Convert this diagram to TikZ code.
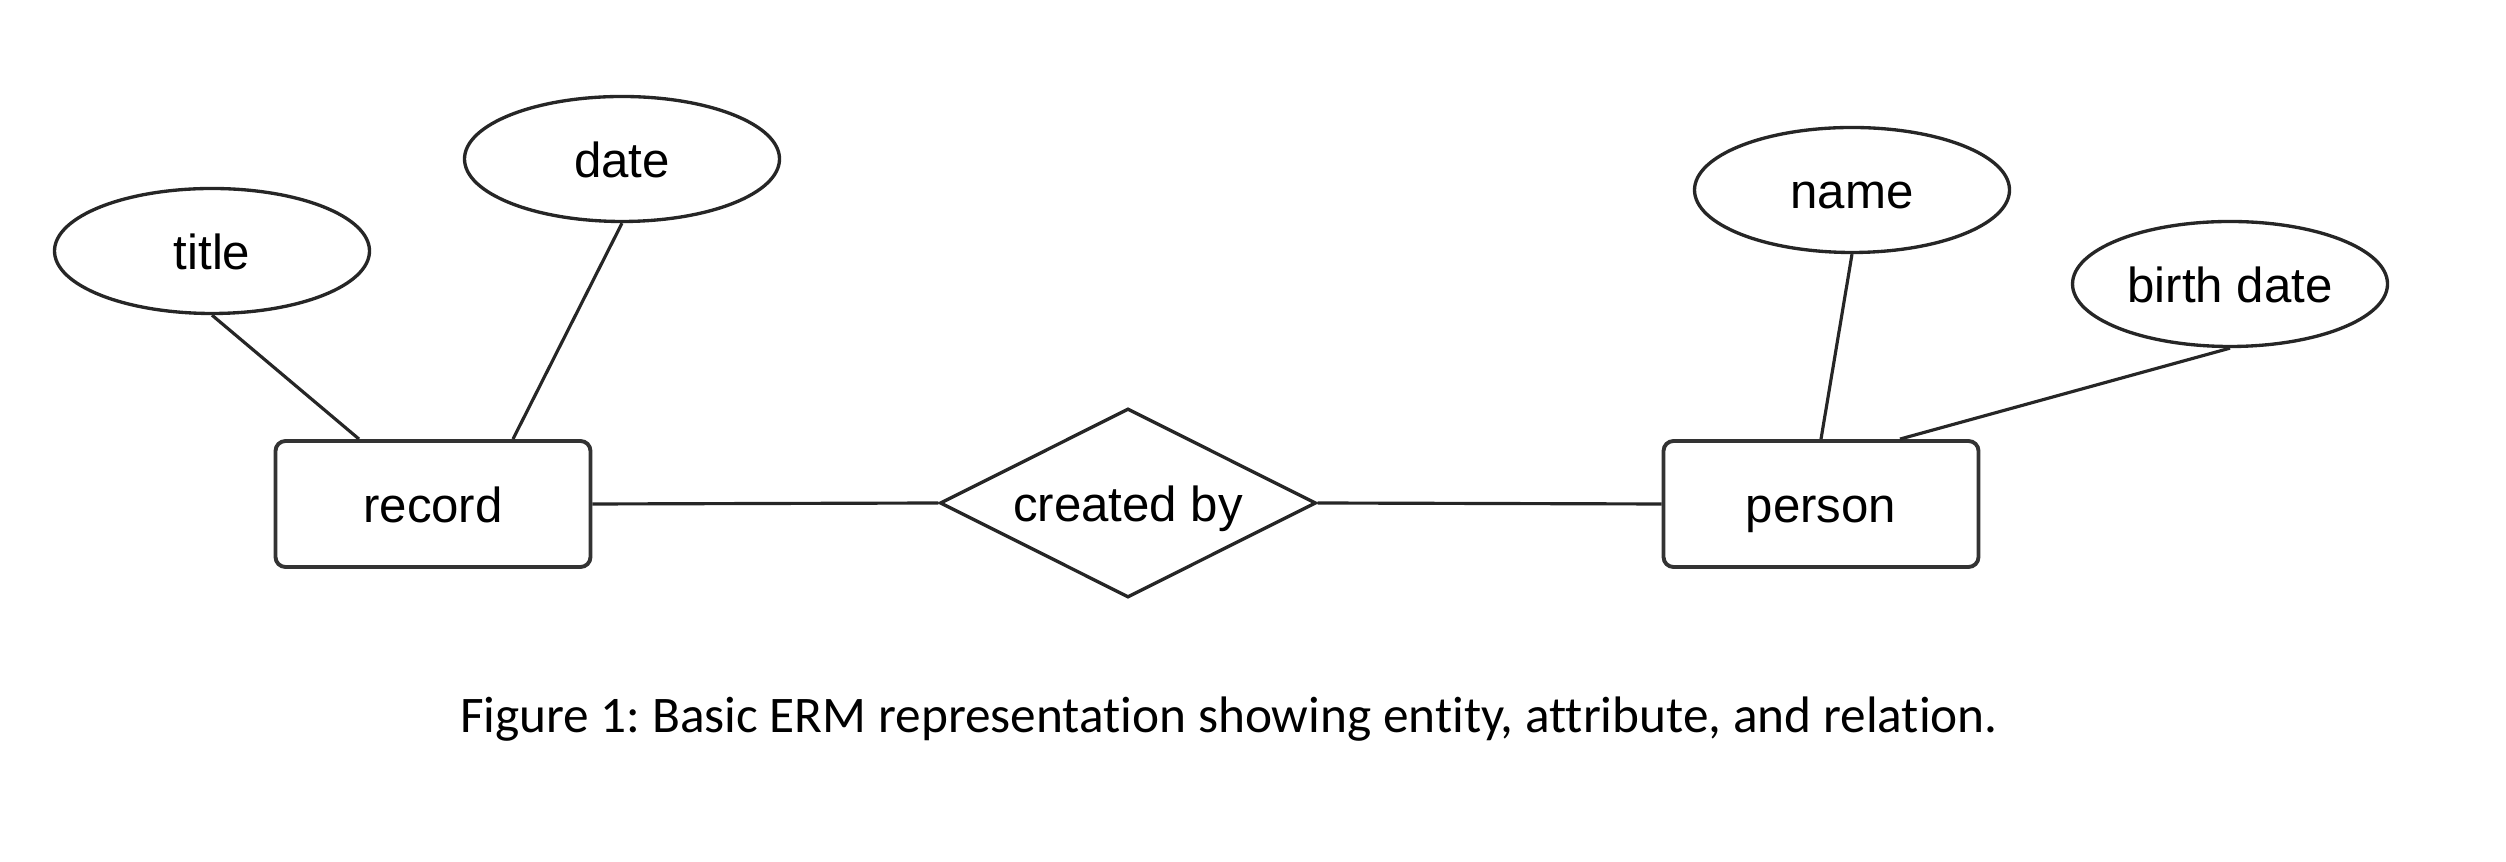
\documentclass[tikz,border=0pt]{standalone}
\usepackage{fontspec}
\setmainfont{Liberation Sans}
\newfontfamily\capfont[Ligatures=NoCommon]{Carlito}
\usetikzlibrary{shapes.geometric}

\begin{document}
\begin{tikzpicture}[scale=1,
    every node/.style={text height=0.74cm,text depth=0pt,font=\fontsize{28}{32}\selectfont},
    attr/.style={draw=black!85,ellipse,line width=1.9pt,minimum width=6.3cm,minimum height=2.5cm,inner sep=0pt},
    entity/.style={draw=black!80,rectangle,rounded corners=0.2cm,line width=2.2pt,minimum width=6.3cm,minimum height=2.52cm,inner sep=0pt},
    relation/.style={draw=black!85,diamond,aspect=2,line width=1.9pt,minimum width=7.52cm,minimum height=3.78cm,inner sep=0pt},
    link/.style={draw=black!85,line width=1.8pt}]
    \useasboundingbox (0,0) rectangle (50.12,17.24);
    % entities and relation
    \node[entity] (R) at (8.66,7.16) {record};
    \node[entity] (P) at (36.42,7.16) {person};
    \node[relation] (C) at (22.56,7.18) {created by};
    % attributes
    \node[attr] (T) at (4.24,12.22) {title};
    \node[attr] (D) at (12.44,14.06) {date};
    \node[attr] (N) at (37.04,13.44) {name};
    \node[attr] (B) at (44.6,11.56) {birth date};
    % connectors
    \draw[link] (R.east) -- (C.west);
    \draw[link] (C.east) -- (P.west);
    \draw[link] (T.south) -- ([xshift=-1.48cm]R.north);
    \draw[link] (D.south) -- ([xshift=1.6cm]R.north);
    \draw[link] (N.south) -- (P.north);
    \draw[link] (B.south) -- ([xshift=1.58cm]P.north);
    % caption
    \node[anchor=base,text height=,font=\capfont\fontsize{29.2}{33}\selectfont\frenchspacing] (cap) at (24.58,2.58)
        {Figure 1: Basic ERM representation showing entity, attribute, and relation.};
\end{tikzpicture}
\end{document}
